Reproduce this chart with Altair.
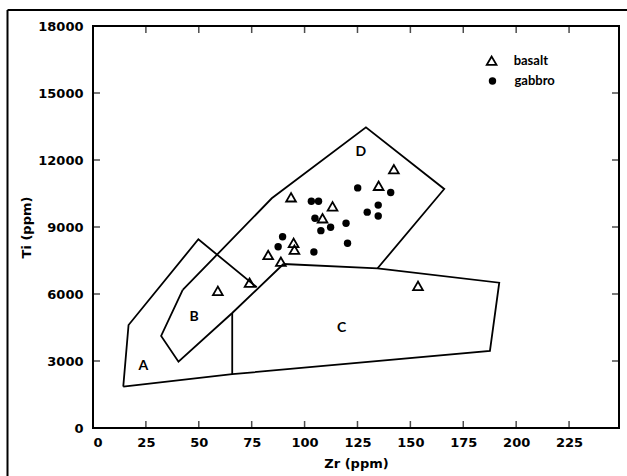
import altair as alt
import pandas as pd

# ---- data ----
x_ticks = [0, 25, 50, 75, 100, 125, 150, 175, 200, 225]
y_ticks = [0, 3000, 6000, 9000, 12000, 15000, 18000]

# field boundary polylines (Zr ppm, Ti ppm)
line_a_zr = [14.3, 16.8, 49.8, 77.4]
line_a_ti = [1850, 4612, 8450, 6300]
line_b_zr = [42.4, 32.2, 40.4, 65.8, 90.0]
line_b_ti = [6180, 4120, 2970, 5150, 7344]
line_d_zr = [42.4, 84.5, 129.0, 166.0, 134.5]
line_d_ti = [6180, 10286, 13465, 10702, 7151]
line_c_zr = [90.0, 134.5, 192.0, 187.6, 65.8, 14.3]
line_c_ti = [7344, 7151, 6507, 3448, 2410, 1850]
line_cv_zr = [65.8, 65.8]
line_cv_ti = [5150, 2410]

field_names = ["A", "B", "C", "D"]
field_zr = [23.8, 47.8, 117.5, 126.6]
field_ti = [2790, 4985, 4490, 12372]

basalt_zr = [142.2, 135.0, 93.6, 113.2, 108.5, 94.8, 95.2, 82.8, 88.8, 74.0, 153.6, 59.0]
basalt_ti = [11590, 10845, 10330, 9925, 9390, 8290, 7985, 7747, 7447, 6507, 6365, 6140]

gabbro_zr = [125.1, 140.7, 103.2, 106.6, 134.8, 129.6, 134.8, 104.9, 119.6, 112.3, 107.7, 89.6, 87.5, 120.3, 104.4]
gabbro_ti = [10750, 10545, 10150, 10150, 9980, 9665, 9493, 9390, 9166, 8987, 8836, 8567, 8119, 8271, 7880]

legend_labels = ["basalt", "gabbro"]
legend_zr = [188.4, 188.8]
legend_ti = [16448, 15538]

# ---- tables ----
segs = []
for name, xs, ys in [("A", line_a_zr, line_a_ti), ("B", line_b_zr, line_b_ti),
                     ("D", line_d_zr, line_d_ti), ("C", line_c_zr, line_c_ti),
                     ("CV", line_cv_zr, line_cv_ti)]:
    for i, (a, b) in enumerate(zip(xs, ys)):
        segs.append({"seg": name, "ord": i, "zr": a, "ti": b})
lines_df = pd.DataFrame(segs)

fields_df = pd.DataFrame({"zr": field_zr, "ti": field_ti, "label": field_names})
basalt_df = pd.DataFrame({"zr": basalt_zr, "ti": basalt_ti})
gabbro_df = pd.DataFrame({"zr": gabbro_zr, "ti": gabbro_ti})
legend_df = pd.DataFrame({"zr": legend_zr, "ti": legend_ti, "label": legend_labels})
xt_df = pd.DataFrame({"zr": x_ticks})
yt_df = pd.DataFrame({"ti": y_ticks})

FONT = "DejaVu Sans"
W, H = 526, 402

xscale = alt.Scale(domain=[0, 248.6], nice=False, zero=False)
yscale = alt.Scale(domain=[0, 18000], nice=False, zero=False)
xaxis = alt.Axis(values=x_ticks, ticks=False, tickSize=0, domain=False, grid=False, format="d",
                 labelFont=FONT, labelFontSize=13, labelFontWeight="bold", labelPadding=8,
                 labelColor="black", title="Zr (ppm)", titleFont=FONT, titleFontSize=13,
                 titleFontWeight="bold", titlePadding=8, titleColor="black")
yaxis = alt.Axis(values=y_ticks, ticks=False, tickSize=0, domain=False, grid=False, format="d",
                 labelFont=FONT, labelFontSize=13, labelFontWeight="bold", labelPadding=10,
                 labelColor="black", title="Ti (ppm)", titleFont=FONT, titleFontSize=13,
                 titleFontWeight="bold", titlePadding=4, titleColor="black")

X = alt.X("zr:Q", scale=xscale, axis=xaxis)
Y = alt.Y("ti:Q", scale=yscale, axis=yaxis)

lines = alt.Chart(lines_df).mark_line(color="black", strokeWidth=1.8).encode(
    x=X, y=Y, detail="seg:N", order="ord:Q")

basalt = alt.Chart(basalt_df).mark_point(shape="triangle-up", filled=False, stroke="black",
                                         strokeWidth=1.8, size=95, opacity=1).encode(x=X, y=Y)
gabbro = alt.Chart(gabbro_df).mark_point(shape="circle", filled=True, color="black",
                                         size=55, opacity=1).encode(x=X, y=Y)

fields = alt.Chart(fields_df).mark_text(font="Lato", fontSize=14, fontWeight="bold",
                                        color="black").encode(x=X, y=Y, text="label:N")

leg_tri = alt.Chart(legend_df.iloc[[0]]).mark_point(shape="triangle-up", filled=False, stroke="black",
                                                    strokeWidth=1.8, size=95, opacity=1).encode(x=X, y=Y)
leg_dot = alt.Chart(legend_df.iloc[[1]]).mark_point(shape="circle", filled=True, color="black",
                                                    size=55, opacity=1).encode(x=X, y=Y)
leg_txt = alt.Chart(legend_df).mark_text(font="Lato", fontSize=13, fontWeight="bold", align="left",
                                         dx=22, color="black").encode(x=X, y=Y, text="label:N")

tick_b = alt.Chart(xt_df).mark_tick(orient="vertical", color="black", size=7, thickness=1.5).encode(
    x=X, y=alt.value(H - 3.5))
tick_t = alt.Chart(xt_df).mark_tick(orient="vertical", color="black", size=7, thickness=1.5).encode(
    x=X, y=alt.value(3.5))
tick_l = alt.Chart(yt_df).mark_tick(orient="horizontal", color="black", size=7, thickness=1.5).encode(
    y=Y, x=alt.value(3.5))
tick_r = alt.Chart(yt_df).mark_tick(orient="horizontal", color="black", size=7, thickness=1.5).encode(
    y=Y, x=alt.value(W - 3.5))

one = pd.DataFrame({"a": [0]})
frame_left = alt.Chart(one).mark_rule(color="black", strokeWidth=2).encode(
    x=alt.value(-85.5), y=alt.value(-16), y2=alt.value(460))
frame_top = alt.Chart(one).mark_rule(color="black", strokeWidth=2).encode(
    x=alt.value(-85.5), x2=alt.value(540), y=alt.value(-16))

chart = alt.layer(
    lines, basalt, gabbro, fields, leg_tri, leg_dot, leg_txt,
    tick_b, tick_t, tick_l, tick_r, frame_left, frame_top
).properties(
    width=W, height=H, autosize="none",
    padding={"left": 93, "top": 26, "right": 8, "bottom": 48},
    background="white"
).configure_view(stroke="black", strokeWidth=2)

chart.save("out.html", embed_options={"renderer": "svg", "actions": False})
